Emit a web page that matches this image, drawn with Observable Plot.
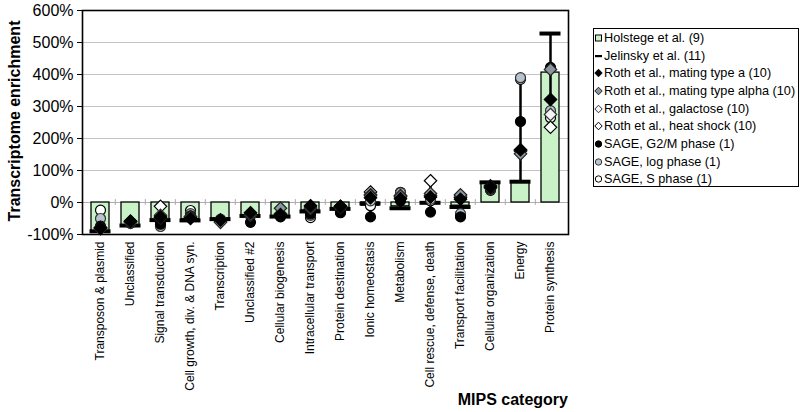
<!DOCTYPE html>
<html><head><meta charset="utf-8">
<script src="https://cdn.jsdelivr.net/npm/d3@7"></script>
<script src="https://cdn.jsdelivr.net/npm/@observablehq/plot@0.6"></script>
<style>
body{margin:0;background:#fff;font-family:Arial,"Liberation Sans",sans-serif;}
#wrap{position:relative;width:800px;height:412px;overflow:hidden;}
#legend{position:absolute;left:593px;top:28px;width:206px;height:159px;border:1.5px solid #000;box-sizing:border-box;padding-top:0px;background:#fff;}
.li{display:flex;align-items:center;height:17.7px;font-size:12.7px;color:#000;white-space:nowrap;}
.li svg{flex:none;margin-right:1px;}
.ttl{position:absolute;font-weight:bold;font-size:16px;color:#000;white-space:nowrap;}
#ytitle{left:15px;top:121px;transform:translate(-50%,-50%) rotate(-90deg);}
#xtitle{right:232px;top:391px;}
</style></head>
<body><div id="wrap"><div id="legend"></div><div class="ttl" id="ytitle">Transcriptome enrichment</div><div class="ttl" id="xtitle">MIPS category</div></div>
<script>
const cats = ["Transposon & plasmid","Unclassified","Signal transduction","Cell growth, div. & DNA syn.","Transcription","Unclassified #2","Cellular biogenesis","Intracellular transport","Protein destination","Ionic homeostasis","Metabolism","Cell rescue, defense, death","Transport facilitation","Cellular organization","Energy","Protein synthesis"];
const yTicks = [-100,0,100,200,300,400,500,600];
const holstege  = [-92,-72,-58,-52,-50,-42,-45,-25,-18,-10,-12,-4,-10,60,65,406];
const jelinsky  = [-90,-72,-55,-56,-52,-42,-44,-28,-20,-3,-18,-1,-14,63,65,528];
const rothA     = [-80,-58,-45,-50,-55,-32,-38,-10,-12,15,12,17,10,48,165,322];
const rothAlpha = [-78,-60,-48,-45,-62,-38,-18,-14,-14,22,20,28,24,50,152,416];
const rothGal   = [-82,-62,-40,-44,-58,-40,-35,-18,-15,25,22,22,20,45,163,275];
const rothHeat  = [-80,-60,-12,-48,-55,-38,-40,-20,-12,33,18,68,16,52,161,235];
const sageG2M   = [-74,-62,-68,-42,-55,-62,-45,-36,-32,-45,5,-30,-45,44,253,422];
const sageLog   = [-50,-64,-75,-35,-52,-42,-42,-40,-28,5,30,10,-35,40,390,287];
const sageS     = [-24,-65,-62,-25,-55,-40,-38,-47,-30,-10,32,5,-40,38,385,265];

const seriesNames = ["Holstege et al. (9)","Jelinsky et al. (11)","Roth et al., mating type a (10)","Roth et al., mating type alpha (10)","Roth et al., galactose (10)","Roth et al., heat shock (10)","SAGE, G2/M phase (1)","SAGE, log phase (1)","SAGE, S phase (1)"];

const green = "#c9f2c9";
const pointSeries = [
  {name: seriesNames[2], values: rothA,     symbol: "diamond2", fill: "#000",    stroke: "#000"},
  {name: seriesNames[3], values: rothAlpha, symbol: "diamond2", fill: "#8a959e", stroke: "#222"},
  {name: seriesNames[4], values: rothGal,   symbol: "diamond2", fill: "#f4f4f4", stroke: "#333"},
  {name: seriesNames[5], values: rothHeat,  symbol: "diamond2", fill: "#fff",    stroke: "#000"},
  {name: seriesNames[6], values: sageG2M,   symbol: "circle",   fill: "#000",    stroke: "#000"},
  {name: seriesNames[7], values: sageLog,   symbol: "circle",   fill: "#b7c4cd", stroke: "#333"},
  {name: seriesNames[8], values: sageS,     symbol: "circle",   fill: "#fff",    stroke: "#000"}
];

const rows = cats.map((c,i)=>({cat:c, holstege:holstege[i], jelinsky:jelinsky[i]}));
const ranges = cats.map((c,i)=>{
  const vals = [jelinsky[i], ...pointSeries.map(s=>s.values[i])];
  return {cat:c, lo:d3.min(vals), hi:d3.max(vals)};
});

const W=800, H=412, ML=82, MR=232, MT=10, MB=178;
const step = (W-ML-MR)/16;

// draw SAGE first, then Roth (mating type a on top)
const dotMarks = pointSeries.slice().reverse().map(s => Plot.dot(s.values.map((v,i)=>({cat:cats[i], v})), {
  x:"cat", y:"v", symbol: s.symbol, r: s.symbol==="circle"?5:5.6, fill: s.fill, stroke: s.stroke, strokeWidth: 1.2
}));

const chart = Plot.plot({
  width: W, height: H,
  marginLeft: ML, marginRight: MR, marginTop: MT, marginBottom: MB,
  style: {fontFamily: "Arial, 'Liberation Sans', sans-serif", background: "#fff", color: "#000"},
  x: {type: "band", domain: cats, paddingInner: 0.4, paddingOuter: 0.2},
  y: {domain: [-100, 600]},
  marks: [
    Plot.gridY(yTicks.filter(d=>d>0 && d<600), {stroke: "#c4c4c4", strokeOpacity: 1, strokeWidth: 1}),
    Plot.ruleY([0], {stroke: "#b0b0b0", strokeWidth: 1}),
    Plot.ruleX(cats.slice(1), {x: d=>d, y1: -9, y2: 9, dx: -step/2, stroke: "#aaa", strokeWidth: 1}),
    Plot.barY(rows, {x: "cat", y: "holstege", fill: green, stroke: "#000", strokeWidth: 1.3}),
    Plot.ruleX(ranges, {x: "cat", y1: "lo", y2: "hi", stroke: "#000", strokeWidth: 2.5}),
    Plot.tickY(rows, {x: "cat", y: "jelinsky", stroke: "#000", strokeWidth: 4, insetLeft: -1.5, insetRight: -1.5}),
    ...dotMarks,
    Plot.frame({stroke: "#000", strokeWidth: 1.6}),
    Plot.axisY(yTicks, {tickFormat: d => d + "%", fontSize: 16, tickSize: 5, tickPadding: 4, label: null, stroke: "#000"}),
    Plot.axisX({tickRotate: -90, tickSize: 0, tickPadding: 7, fontSize: 12, label: null})
  ]
});
document.getElementById("wrap").prepend(chart);

// legend
const legendStyles = [
  {type: "square", fill: green, stroke: "#000"},
  {type: "dash"},
  ...pointSeries.map(s => ({type: s.symbol, fill: s.fill, stroke: s.stroke}))
];
const lg = d3.select("#legend");
seriesNames.forEach((name, i) => {
  const st = legendStyles[i];
  const row = lg.append("div").attr("class", "li");
  const svg = row.append("svg").attr("width", 9).attr("height", 10);
  if (st.type === "square") svg.append("rect").attr("x", 1.5).attr("y", 2).attr("width", 6).attr("height", 6).attr("fill", st.fill).attr("stroke", st.stroke).attr("stroke-width", 1);
  else if (st.type === "dash") svg.append("rect").attr("x", 1).attr("y", 4).attr("width", 7).attr("height", 2.2).attr("fill", "#000");
  else if (st.type === "circle") svg.append("circle").attr("cx", 4.5).attr("cy", 5).attr("r", 3.2).attr("fill", st.fill).attr("stroke", st.stroke).attr("stroke-width", 1);
  else svg.append("path").attr("d", "M4.5,1.2L8.2,5L4.5,8.8L0.8,5Z").attr("fill", st.fill).attr("stroke", st.stroke).attr("stroke-width", 1);
  row.append("span").text(name);
});
</script></body></html>
